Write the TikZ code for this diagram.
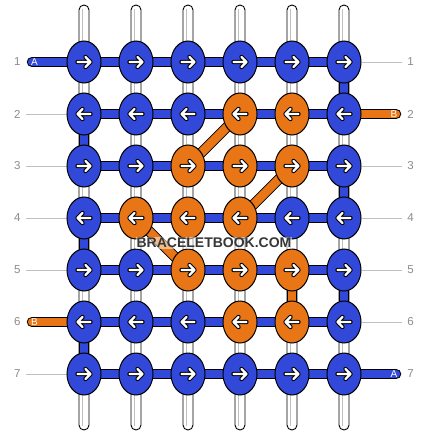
\documentclass[tikz,border=0pt]{standalone}
\usepackage{fontspec}
\setmainfont{Liberation Sans}
\usetikzlibrary{shapes.geometric}
\definecolor{knotb}{RGB}{50,72,216}
\definecolor{knoto}{RGB}{232,118,22}
\definecolor{guidegray}{RGB}{192,192,192}
\definecolor{numgray}{RGB}{140,140,140}
\definecolor{markgray}{RGB}{55,55,55}
\pgfdeclarelayer{strings}
\pgfdeclarelayer{bars}
\pgfsetlayers{strings,bars,main}
\tikzset{
	knot/.style={ellipse, draw=black, line width=1pt, minimum width=34pt, minimum height=42pt, inner sep=0pt},
	bar/.style={draw=black, line width=1pt, double=#1, double distance=8.5pt},
	tailbar/.style={bar=#1, line cap=round},
	string/.style={fill=white, draw=black, line width=0.9pt, rounded corners=4.9pt},
	stringline/.style={draw=guidegray, line width=0.9pt},
	guide/.style={draw=guidegray, line width=0.8pt},
	rownum/.style={text=numgray, inner sep=3pt, font=\fontsize{11.5}{11.5}\selectfont},
	tailtext/.style={text=white, inner sep=0pt, font=\fontsize{10}{10}\selectfont},
	knotarrow/.pic={
		\draw[black, xscale=#1, line width=4.4pt, line cap=round, line join=round] (-6.5,0) -- (6.5,0) (1.5,-5) -- (6.5,0) -- (1.5,5);
		\draw[white, xscale=#1, line width=2.4pt, line cap=round, line join=round] (-6.5,0) -- (6.5,0) (1.5,-5) -- (6.5,0) -- (1.5,5);
	}
}
\begin{document}
\begin{tikzpicture}[x=1pt, y=-1pt]
		\useasboundingbox (0,0) rectangle (428,436);
		\begin{pgfonlayer}{strings}
			\fill[white] (0,0) rectangle (428,436);
			\foreach \i in {1,...,6} {
				\draw[string] ({79+52*(\i-1)},5) rectangle ({89+52*(\i-1)},430);
				\draw[stringline] ({82.5+52*(\i-1)},9) -- ({82.5+52*(\i-1)},426);
			}
		\end{pgfonlayer}
		\foreach \r/\d/\cols in {1/1/{b,b,b,b,b,b}, 2/-1/{b,b,b,o,o,b}, 3/1/{b,b,o,o,o,b}, 4/-1/{b,o,o,o,b,b}, 5/1/{b,b,o,o,o,b}, 6/-1/{b,b,b,o,o,b}, 7/1/{b,b,b,b,b,b}} {
			\foreach \c [count=\i] in \cols {
				\node[knot, fill=knot\c] (k\r\i) at ({84+52*(\i-1)},{62+52*(\r-1)}) {};
				\pic at (k\r\i) {knotarrow=\d};
			}
			\node[rownum] (nl\r) at (17.3,{62+52*(\r-1)}) {\r};
			\node[rownum] (nr\r) at (410.5,{62+52*(\r-1)}) {\r};
		}
		\coordinate (tl1) at (32,62);
		\coordinate (tr2) at (396,114);
		\coordinate (tl6) at (32,322);
		\coordinate (tr7) at (396,374);
		\begin{pgfonlayer}{bars}
			\foreach \r in {1,...,7} {
				\foreach \i/\j in {1/2,2/3,3/4,4/5,5/6} {
					\draw[bar=knotb] (k\r\i.center) -- (k\r\j.center);
				}
			}
			\draw[bar=knotb] (k16.center) -- (k26.center);
			\draw[bar=knotb] (k21.center) -- (k31.center);
			\draw[bar=knotb] (k36.center) -- (k46.center);
			\draw[bar=knotb] (k41.center) -- (k51.center);
			\draw[bar=knotb] (k56.center) -- (k66.center);
			\draw[bar=knoto] (k55.center) -- (k65.center);
			\draw[bar=knotb] (k61.center) -- (k71.center);
			\draw[bar=knoto] (k33.center) -- (k24.center);
			\draw[bar=knoto] (k44.center) -- (k35.center);
			\draw[bar=knoto] (k42.center) -- (k53.center);
			\draw[tailbar=knotb] (tl1) -- (k11.center);
			\draw[tailbar=knoto] (tr2) -- (k26.center);
			\draw[tailbar=knoto] (tl6) -- (k61.center);
			\draw[tailbar=knotb] (tr7) -- (k76.center);
			\foreach \r in {2,3,4,5,7}
				\draw[guide, shorten <=2.6pt] (nl\r.east) -- (k\r1.west);
			\foreach \r in {1,3,4,5,6}
				\draw[guide, shorten >=2.5pt] (k\r6.east) -- (nr\r.west);
		\end{pgfonlayer}
		\node[tailtext] (ta1) at (34.5,62) {A};
		\node[tailtext] (tb2) at (394,114) {B};
		\node[tailtext] (tb6) at (34.5,322) {B};
		\node[tailtext] (ta7) at (394,374) {A};
		\node[fill=white, fill opacity=0.5, text opacity=1, text=markgray, inner sep=1pt, font=\fontsize{14}{14}\selectfont\bfseries] (mark) at (214,243) {BRACELETBOOK.COM};
	\end{tikzpicture}
\end{document}
